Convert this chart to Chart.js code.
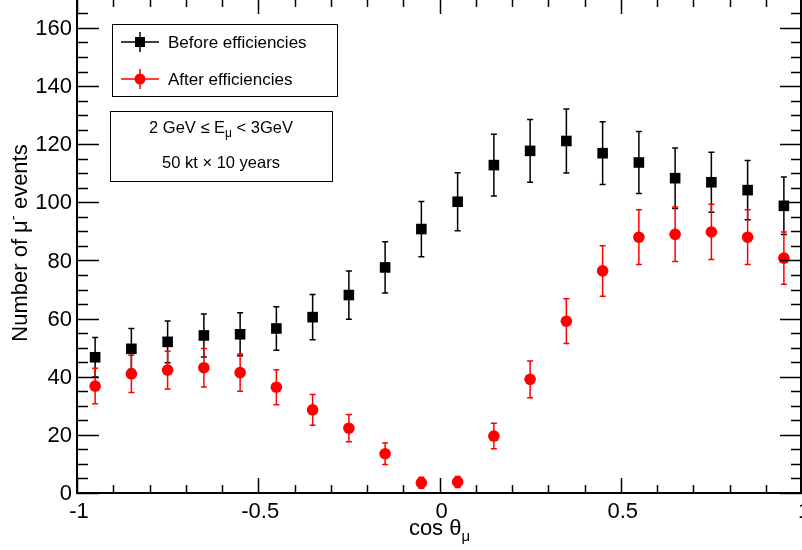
<!DOCTYPE html>
<html>
<head>
<meta charset="utf-8">
<script src="https://cdn.jsdelivr.net/npm/chart.js@4.4.1/dist/chart.umd.min.js"></script>
<style>
  html, body { margin: 0; padding: 0; background: #fff; }
  #wrap { width: 802px; height: 550px; }
</style>
</head>
<body>
<div id="wrap"><canvas id="myChart"></canvas></div>
<script>
// bin centres of cos(theta_mu)
const cosTheta = [-0.95, -0.85, -0.75, -0.65, -0.55, -0.45, -0.35, -0.25, -0.15, -0.05,
                   0.05,  0.15,  0.25,  0.35,  0.45,  0.55,  0.65,  0.75,  0.85,  0.95];
// events before efficiencies
const beforeEff = [46.7, 49.6, 52.0, 54.2, 54.6, 56.6, 60.5, 68.1, 77.6, 90.8,
                   100.2, 112.8, 117.7, 121.1, 116.9, 113.7, 108.3, 106.9, 104.2, 98.8];
const beforeErr = [6.8, 7.0, 7.2, 7.4, 7.4, 7.5, 7.8, 8.3, 8.8, 9.5,
                   10.0, 10.6, 10.8, 11.0, 10.8, 10.7, 10.4, 10.3, 10.2, 9.9];
// events after efficiencies
const afterEff = [36.8, 41.0, 42.3, 43.1, 41.4, 36.4, 28.6, 22.3, 13.5, 3.5,
                  3.8, 19.6, 39.1, 59.1, 76.4, 88.0, 89.0, 89.8, 88.0, 80.8];
const afterErr = [6.1, 6.4, 6.5, 6.6, 6.4, 6.0, 5.3, 4.7, 3.7, 1.9,
                  1.9, 4.4, 6.3, 7.7, 8.7, 9.4, 9.4, 9.5, 9.4, 9.0];

const xTicks = [-1, -0.5, 0, 0.5, 1];
const xTickLabels = ['-1', '-0.5', '0', '0.5', '1'];
const yTicks = [0, 20, 40, 60, 80, 100, 120, 140, 160];
const yTickLabels = ['0', '20', '40', '60', '80', '100', '120', '140', '160'];

const FONT = '"Liberation Sans", Arial, Helvetica, sans-serif';

function toPoints(ys, errs) {
  return cosTheta.map((x, i) => ({ x: x, y: ys[i], err: errs[i] }));
}

// vertical error bars with small end caps
const errorBars = {
  id: 'errorBars',
  beforeDatasetsDraw(chart) {
    const ctx = chart.ctx;
    const xs = chart.scales.x, ys = chart.scales.y;
    chart.data.datasets.forEach((ds) => {
      ctx.save();
      ctx.strokeStyle = ds.borderColor;
      ctx.lineWidth = 1.5;
      ds.data.forEach((p) => {
        const px = xs.getPixelForValue(p.x);
        const top = ys.getPixelForValue(p.y + p.err);
        const bot = ys.getPixelForValue(p.y - p.err);
        ctx.beginPath();
        ctx.moveTo(px, top); ctx.lineTo(px, bot);
        ctx.moveTo(px - 3, top); ctx.lineTo(px + 3, top);
        ctx.moveTo(px - 3, bot); ctx.lineTo(px + 3, bot);
        ctx.stroke();
      });
      ctx.restore();
    });
  }
};

// ROOT style frame, inner ticks, labels, legend and text box
const rootFrame = {
  id: 'rootFrame',
  afterDraw(chart) {
    const ctx = chart.ctx;
    const a = chart.chartArea;
    const xs = chart.scales.x, ys = chart.scales.y;
    ctx.save();
    ctx.strokeStyle = '#000';
    ctx.fillStyle = '#000';
    ctx.lineWidth = 2;
    // top edge sits just above the canvas, as in the original
    ctx.strokeRect(a.left, a.top - 1.5, a.right - a.left - 1, a.bottom - a.top + 1.5);

    ctx.lineWidth = 1.5;
    ctx.beginPath();
    // y ticks, major every 20, minor every 5
    for (let v = 0; v <= 165; v += 5) {
      const py = Math.round(ys.getPixelForValue(v)) + 0.5;
      const len = (v % 20 === 0) ? 22 : 11;
      ctx.moveTo(a.left, py); ctx.lineTo(a.left + len, py);
      ctx.moveTo(a.right, py); ctx.lineTo(a.right - len, py);
    }
    // x ticks, major every 0.5, minor every 0.1
    for (let k = -10; k <= 10; k++) {
      const px = Math.round(xs.getPixelForValue(k / 10)) + 0.5;
      const len = (k % 5 === 0) ? 15 : 8;
      ctx.moveTo(px, a.bottom); ctx.lineTo(px, a.bottom - len);
      ctx.moveTo(px, a.top); ctx.lineTo(px, a.top + len - 1);
    }
    ctx.stroke();

    // tick labels
    ctx.font = '22px ' + FONT;
    ctx.textAlign = 'right';
    ctx.textBaseline = 'middle';
    yTicks.forEach((v, i) => {
      ctx.fillText(yTickLabels[i], a.left - 5, ys.getPixelForValue(v) + 1);
    });
    ctx.textAlign = 'center';
    ctx.textBaseline = 'alphabetic';
    xTicks.forEach((v, i) => {
      ctx.fillText(xTickLabels[i], xs.getPixelForValue(v) + 2, a.bottom + 25);
    });

    // x title: cos theta_mu
    const t1 = 'cos \u03b8';
    ctx.font = '22px ' + FONT;
    const w1 = ctx.measureText(t1).width;
    ctx.font = '15px ' + FONT;
    const w2 = ctx.measureText('\u03bc').width;
    let sx = xs.getPixelForValue(0) - (w1 + w2) / 2;
    ctx.textAlign = 'left';
    ctx.font = '22px ' + FONT;
    ctx.fillText(t1, sx, 535);
    ctx.font = '15px ' + FONT;
    ctx.fillText('\u03bc', sx + w1, 541);

    // y title: Number of mu- events
    ctx.save();
    ctx.translate(27, 243);
    ctx.rotate(-Math.PI / 2);
    const p1 = 'Number of \u03bc', p2 = '-', p3 = ' events';
    ctx.font = '22px ' + FONT;
    const q1 = ctx.measureText(p1).width, q3 = ctx.measureText(p3).width;
    ctx.font = '15px ' + FONT;
    const q2 = ctx.measureText(p2).width;
    let tx = -(q1 + q2 + q3) / 2;
    ctx.font = '22px ' + FONT;
    ctx.fillText(p1, tx, 0);
    ctx.font = '15px ' + FONT;
    ctx.fillText(p2, tx + q1, -9);
    ctx.font = '22px ' + FONT;
    ctx.fillText(p3, tx + q1 + q2, 0);
    ctx.restore();

    // legend box
    ctx.lineWidth = 1;
    ctx.strokeRect(112.5, 24.5, 225, 72);
    const entries = [
      { label: chart.data.datasets[0].label, color: '#000', style: 'rect', y: 42 },
      { label: chart.data.datasets[1].label, color: '#ff0000', style: 'circle', y: 79 }
    ];
    entries.forEach((e) => {
      ctx.strokeStyle = e.color;
      ctx.fillStyle = e.color;
      ctx.lineWidth = 1.5;
      ctx.beginPath();
      ctx.moveTo(121, e.y); ctx.lineTo(159, e.y);
      ctx.moveTo(140, e.y - 10); ctx.lineTo(140, e.y + 10);
      ctx.stroke();
      if (e.style === 'rect') {
        ctx.fillRect(135, e.y - 5, 10, 10);
      } else {
        ctx.beginPath();
        ctx.arc(140, e.y, 5.5, 0, Math.PI * 2);
        ctx.fill();
      }
      ctx.fillStyle = '#000';
      ctx.font = '17px ' + FONT;
      ctx.textAlign = 'left';
      ctx.textBaseline = 'middle';
      ctx.fillText(e.label, 168, e.y + 1);
    });

    // info box
    ctx.strokeStyle = '#000';
    ctx.lineWidth = 1;
    ctx.strokeRect(110.5, 111.5, 222, 70);
    ctx.textBaseline = 'alphabetic';
    const cx = 221;
    const s1 = '2 GeV \u2264 E', s2 = '\u03bc', s3 = ' < 3GeV';
    ctx.font = '16.5px ' + FONT;
    const r1 = ctx.measureText(s1).width, r3 = ctx.measureText(s3).width;
    ctx.font = '12px ' + FONT;
    const r2 = ctx.measureText(s2).width;
    let bx = cx - (r1 + r2 + r3) / 2;
    ctx.textAlign = 'left';
    ctx.font = '16.5px ' + FONT;
    ctx.fillText(s1, bx, 133);
    ctx.font = '12px ' + FONT;
    ctx.fillText(s2, bx + r1, 137);
    ctx.font = '16.5px ' + FONT;
    ctx.fillText(s3, bx + r1 + r2, 133);
    ctx.textAlign = 'center';
    ctx.fillText('50 kt \u00d7 10 years', cx, 168);
    ctx.restore();
  }
};

const ctx = document.getElementById('myChart').getContext('2d');
const myChart = new Chart(ctx, {
  type: 'scatter',
  data: {
    datasets: [{
      label: 'Before efficiencies',
      data: toPoints(beforeEff, beforeErr),
      backgroundColor: '#000',
      borderColor: '#000',
      pointStyle: 'rect',
      pointRadius: 7.5,
      pointBorderWidth: 0,
      order: 2
    }, {
      label: 'After efficiencies',
      data: toPoints(afterEff, afterErr),
      backgroundColor: '#ff0000',
      borderColor: '#ff0000',
      pointStyle: 'circle',
      pointRadius: 5.8,
      pointBorderWidth: 0,
      order: 1
    }]
  },
  options: {
    responsive: true,
    maintainAspectRatio: false,
    animation: false,
    layout: { autoPadding: false, padding: { left: 77, right: 0, top: 0, bottom: 57 } },
    scales: {
      x: { type: 'linear', min: -1, max: 1, display: false },
      y: { type: 'linear', min: 0, max: 169.6, display: false }
    },
    plugins: {
      legend: false,
      tooltip: { enabled: false }
    }
  },
  plugins: [errorBars, rootFrame]
});
</script>
</body>
</html>
